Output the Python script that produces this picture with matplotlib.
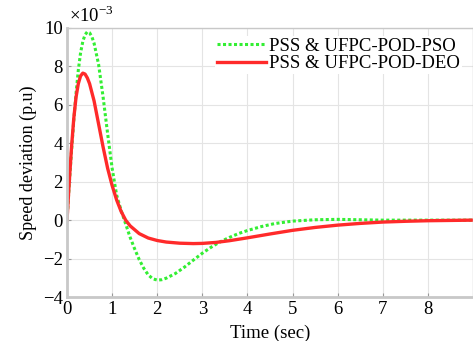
import matplotlib
matplotlib.use('Agg')
import matplotlib.pyplot as plt

plt.rcParams['font.family'] = ['Liberation Serif', 'DejaVu Serif']
plt.rcParams['mathtext.fontset'] = 'custom'
plt.rcParams['mathtext.rm'] = 'Liberation Serif'

# time (sec) and speed deviation (x1e-3 p.u)
t_pso = [0, 0.05, 0.1, 0.15, 0.2, 0.25, 0.3, 0.35, 0.4, 0.45, 0.5, 0.55, 0.6, 0.7, 0.8, 0.9, 1.0,
         1.1, 1.2, 1.3, 1.4, 1.5, 1.6, 1.7, 1.8, 1.9, 2.0, 2.1, 2.2, 2.4, 2.6, 2.8, 3.0, 3.2,
         3.4, 3.6, 3.8, 4.0, 4.3, 4.6, 5.0, 5.5, 6.0, 6.5, 7.0, 8.0, 9.0]
w_pso = [0, 1.9, 3.6, 5.2, 6.6, 7.8, 8.7, 9.3, 9.65, 9.8, 9.75, 9.55, 9.2, 8.1, 6.4, 4.5, 2.7,
         1.3, 0.5, -0.2, -0.9, -1.5, -2.05, -2.5, -2.85, -3.05, -3.12, -3.1, -3.02, -2.78, -2.45,
         -2.08, -1.72, -1.4, -1.12, -0.9, -0.7, -0.54, -0.34, -0.18, -0.05, 0.02, 0.04, 0.02,
         0.0, 0.0, 0.0]

t_deo = [0, 0.05, 0.1, 0.15, 0.2, 0.25, 0.3, 0.35, 0.4, 0.45, 0.5, 0.6, 0.7, 0.8, 0.9, 1.0,
         1.1, 1.2, 1.3, 1.4, 1.6, 1.8, 2.0, 2.2, 2.5, 2.8, 3.0, 3.3, 3.6, 4.0, 4.5, 5.0, 5.5,
         6.0, 6.5, 7.0, 7.5, 8.0, 9.0]
w_deo = [0, 2.0, 3.8, 5.3, 6.4, 7.1, 7.5, 7.65, 7.6, 7.4, 7.1, 6.2, 5.0, 3.8, 2.7, 1.8,
         1.05, 0.45, 0.0, -0.3, -0.7, -0.93, -1.06, -1.14, -1.2, -1.22, -1.21, -1.16, -1.07,
         -0.92, -0.72, -0.53, -0.38, -0.26, -0.17, -0.1, -0.06, -0.03, 0.0]

x_ticks = [0, 1, 2, 3, 4, 5, 6, 7, 8]
y_ticks = [-4, -2, 0, 2, 4, 6, 8, 10]

fig = plt.figure(figsize=(4.73, 3.41), dpi=100)
ax = fig.add_axes([0.1417, 0.129, 0.8583, 0.789])

ax.plot(t_pso, w_pso, color='#33ee33', linestyle=(0, (1, 0.8)), linewidth=2.2,
        label='PSS & UFPC-POD-PSO')
ax.plot(t_deo, w_deo, color='#ff2a2a', linestyle='-', linewidth=2.4,
        label='PSS & UFPC-POD-DEO')

ax.set_xlim(0, 9)
ax.set_ylim(-4, 10)
ax.set_xticks(x_ticks)
ax.set_yticks(y_ticks)
ax.grid(True, color='#e4e4e4', linewidth=0.8)
ax.set_axisbelow(True)
for s in ax.spines.values():
    s.set_color('#c8c8c8')
    s.set_linewidth(1.0)
ax.spines['left'].set_linewidth(2)
ax.spines['bottom'].set_linewidth(2)
ax.tick_params(direction='in', length=3, color='#999999', labelsize=13.5, pad=3)

ax.set_xlabel('Time (sec)', fontsize=13.5, labelpad=5)
ax.set_ylabel('Speed deviation (p.u)', fontsize=13, labelpad=4)
fig.text(0.146, 0.925, r'$\times10^{-3}$', fontsize=13.5, ha='left', va='bottom')

leg = ax.legend(loc='upper right', frameon=True, fontsize=13.5, handlelength=2.6,
                handletextpad=0.15, borderpad=0.1, labelspacing=0.0,
                bbox_to_anchor=(0.995, 1.005))
leg.get_frame().set_edgecolor('none')
leg.get_frame().set_facecolor('white')
leg.get_frame().set_alpha(1)

fig.savefig('out.png', dpi=100)
